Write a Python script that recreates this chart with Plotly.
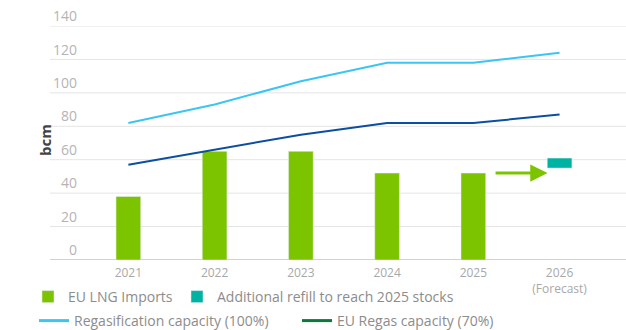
import plotly.graph_objects as go

years = ["2021", "2022", "2023", "2024", "2025", "2026"]
year_labels = ["2021", "2022", "2023", "2024", "2025", "2026<br>(Forecast)"]
lng_imports = [38, 65, 65, 52, 52, None]
refill_base = [None, None, None, None, None, 55]
refill = [None, None, None, None, None, 6]
regas_100 = [82, 93, 107, 118, 118, 124]
regas_70 = [57, 66, 75, 82, 82, 87]
y_ticks = [0, 20, 40, 60, 80, 100, 120, 140]

FONT = "Open Sans"
GREEN = "#7DC400"
TEAL = "#00B2A2"
LIGHT_BLUE = "#3AC5F4"
DARK_BLUE = "#0B4EA2"
DARK_GREEN = "#0A7A3C"

W, H = 626, 330
ML, MR, MT, MB = 50, 0, 26, 70
pw = W - ML - MR
ph = H - MT - MB
plot_left_px = 78
dom0 = (plot_left_px - ML) / pw

def px_x(px):
    return (px - ML) / pw

def px_y(py):
    return (H - MB - py) / ph

fig = go.Figure()
fig.add_trace(go.Bar(x=years, y=lng_imports, name="EU LNG Imports",
                     marker_color=GREEN, width=0.286, legend="legend"))
fig.add_trace(go.Bar(x=years, y=refill, base=refill_base,
                     name="Additional refill to reach 2025 stocks",
                     marker_color=TEAL, width=0.286, legend="legend2"))
fig.add_trace(go.Scatter(x=years, y=regas_100, mode="lines", showlegend=False,
                         line=dict(color=LIGHT_BLUE, width=2)))
fig.add_trace(go.Scatter(x=years, y=regas_70, mode="lines", showlegend=False,
                         line=dict(color=DARK_BLUE, width=2)))
# legend entries (thicker swatches, as in the original legend)
fig.add_trace(go.Scatter(x=[None], y=[None], mode="lines",
                         name="Regasification capacity (100%)",
                         line=dict(color=LIGHT_BLUE, width=3), legend="legend3"))
fig.add_trace(go.Scatter(x=[None], y=[None], mode="lines",
                         name="EU Regas capacity (70%)",
                         line=dict(color=DARK_GREEN, width=3), legend="legend4"))

# gridlines extended to the left edge
for t in y_ticks:
    fig.add_shape(type="line", xref="paper", yref="y", x0=0, x1=1, y0=t, y1=t,
                  line=dict(color="#d2d2d2" if t == 0 else "#e4e4e4",
                            width=2 if t == 0 else 1),
                  layer="below")

# arrow from 2025 bar towards the 2026 refill
i25 = years.index("2025")
fig.add_annotation(x=i25 + 0.86, y=lng_imports[i25], ax=i25 + 0.24, ay=lng_imports[i25],
                   xref="x", yref="y", axref="x", ayref="y", text="",
                   showarrow=True, arrowhead=2, arrowsize=1.15, arrowwidth=3,
                   arrowcolor=GREEN)

fig.add_annotation(text="<b>bcm</b>", xref="paper", yref="paper",
                   x=px_x(33), y=px_y(140), textangle=-90,
                   showarrow=False, font=dict(family=FONT, size=15, color="#444444"))

legend_font = dict(family=FONT, size=14, color="#8c8c8c")

def leg(x_px, y_px):
    return dict(orientation="h", x=px_x(x_px), xanchor="left",
                y=px_y(y_px), yanchor="middle", font=legend_font,
                bgcolor="rgba(0,0,0,0)")

fig.update_layout(
    width=W, height=H,
    margin=dict(l=ML, r=MR, t=MT, b=MB, autoexpand=False),
    paper_bgcolor="white", plot_bgcolor="white",
    font=dict(family=FONT, color="#8c8c8c"),
    barmode="overlay",
    xaxis=dict(domain=[dom0, 1], type="category", range=[-0.584, 5.77],
               tickvals=years, ticktext=year_labels, showgrid=False,
               zeroline=False, showline=False, ticks="", ticklabelstandoff=4,
               tickfont=dict(family=FONT, size=12, color="#a8a8a8")),
    yaxis=dict(range=[0, 140], tickvals=y_ticks, showgrid=False, zeroline=False,
               showline=False, ticks="", ticklabelposition="outside top",
               tickfont=dict(family=FONT, size=14, color="#b4b4b4")),
    legend=leg(28, 297),
    legend2=leg(177, 297),
    legend3=leg(34, 321),
    legend4=leg(297, 321),
    showlegend=True,
)

fig.write_html("out.html")
